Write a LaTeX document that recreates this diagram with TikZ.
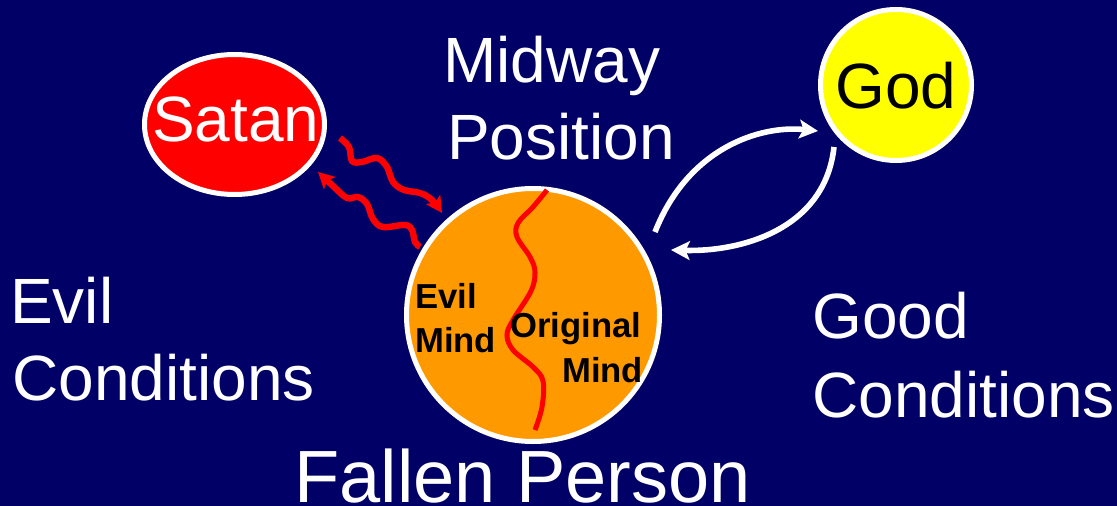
\documentclass[tikz,border=0pt]{standalone}
\usepackage{fontspec}
\setmainfont{Liberation Sans}
\usetikzlibrary{arrows.meta,shapes.geometric}
\definecolor{bgnavy}{RGB}{0,0,102}
\definecolor{satanred}{RGB}{255,0,0}
\definecolor{godyellow}{RGB}{255,255,0}
\definecolor{fallenorange}{RGB}{255,153,0}
\begin{document}
\begin{tikzpicture}[x=0.75pt,y=-0.75pt,
  disc/.style={draw=white, line width=3.75pt, inner sep=0pt},
  bigtext/.style={font=\fontsize{48}{58}\selectfont, text=white, inner sep=0pt, anchor=base west},
  hugetext/.style={font=\fontsize{55.5}{66}\selectfont, text=white, inner sep=0pt, anchor=base west},
  mindtext/.style={font=\fontsize{26}{31}\selectfont\bfseries, text=black, inner sep=0pt, anchor=base west},
  wave/.style={draw=satanred, line width=4.8pt, -{Stealth[length=12pt,width=12.5pt,inset=2.5pt]}},
  divide/.style={draw=satanred, line width=3.75pt},
  godarrow/.style={draw=white, line width=4.2pt, -{Stealth[length=14pt,width=14pt,inset=3pt]}}
]
\fill[bgnavy] (0,0) rectangle (1117,506);
\useasboundingbox (0,0) rectangle (1117,506);

% discs
\node[disc, ellipse, fill=satanred, minimum width=135pt, minimum height=105pt] (satan) at (234.5,124.5) {};
\node[disc, circle, fill=godyellow, minimum size=113.25pt] (god) at (896,85) {};
\node[disc, circle, fill=fallenorange, minimum size=189.75pt] (fallen) at (533,315) {};

% dividing line in the fallen person
\draw[divide] plot[smooth, tension=0.6] coordinates {(547,190) (533,207) (518,223) (517,237) (530,257) (535,272) (531,291) (513,320) (507,335) (513,350) (533,367) (543,381) (542,407) (535,430)};

% wavy arrows between Satan and the fallen person
\coordinate (w1s) at (340,138);
\coordinate (w1e) at (442,213);
\coordinate (w2s) at (420,247);
\coordinate (w2e) at (318,172);
\draw[wave] plot[smooth, tension=0.6] coordinates {(w1s) (349,147) (352,161) (362,162) (377,158) (387,167) (393,182) (404,190) (420,193) (432,200) (w1e)};
\draw[wave] plot[smooth, tension=0.6] coordinates {(w2s) (415,242) (412,230) (405,225) (383,227) (373,219) (367,204) (358,197) (347,198) (333,186) (w2e)};

% arrows between the fallen person and God
\coordinate (a1s) at (655,232);
\coordinate (a1e) at (818,131);
\coordinate (a2s) at (834,147);
\coordinate (a2e) at (671,250);
\draw[godarrow] (a1s) .. controls (688,148) and (760,125) .. (a1e);
\draw[godarrow] (a2s) .. controls (825,230) and (740,252) .. (a2e);

% labels
\node[bigtext] (satanlbl) at (152,142) {Satan};
\node[bigtext, text=black] (godlbl) at (835,109) {God};
\node[bigtext] (midway1) at (443,83) {Midway};
\node[bigtext] (midway2) at (447,160) {Position};
\node[bigtext] (evil1) at (10,323) {Evil};
\node[bigtext] (evil2) at (12,400) {Conditions};
\node[bigtext] (good1) at (812,338) {Good};
\node[bigtext] (good2) at (812,417) {Conditions};
\node[hugetext] (fallenlbl) at (294,502) {Fallen Person};
\node[mindtext] (evilmind1) at (415,308) {Evil};
\node[mindtext] (evilmind2) at (415,352) {Mind};
\node[mindtext] (origmind1) at (510,337) {Original};
\node[mindtext] (origmind2) at (562,382) {Mind};
\end{tikzpicture}
\end{document}
